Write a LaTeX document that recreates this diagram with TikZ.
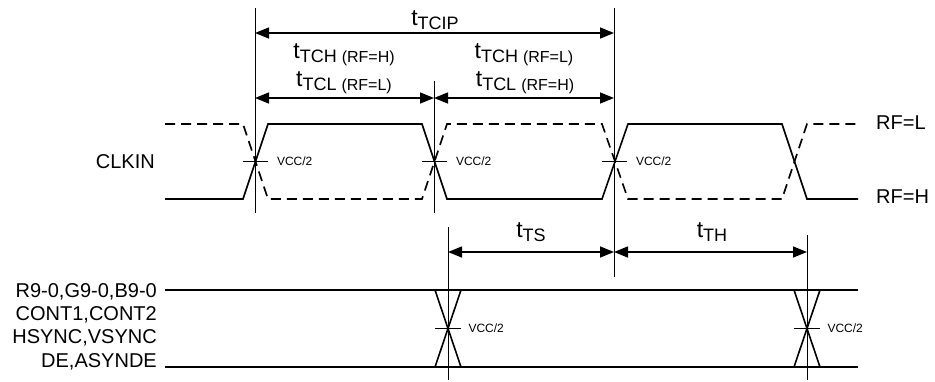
\documentclass[tikz,border=0pt]{standalone}
\usepackage{fontspec}
\setmainfont{Liberation Sans}
\usetikzlibrary{arrows.meta}

% t with subscript, optional (RF=..) part
\newcommand{\tlab}[2][]{{\fontsize{23}{23}\selectfont t}\raisebox{-4pt}{\fontsize{18}{18}\selectfont #2\ifx\relax#1\relax\else\ {\fontsize{16}{16}\selectfont #1}\fi}}

\begin{document}
\begin{tikzpicture}[
        x=1pt, y=-1pt,
        wave/.style={line width=1.6pt},
        wavedash/.style={line width=1.6pt, dash pattern=on 10pt off 6pt},
        guide/.style={line width=0.9pt},
        dimarrow/.style={{Triangle[length=14pt,width=11pt]}-{Triangle[length=14pt,width=11pt]}, line width=1.5pt},
        vtick/.style={line width=1pt},
        sig/.style={font=\fontsize{20}{20}\selectfont, inner sep=0pt},
        vlabel/.style={font=\fontsize{12}{12}\selectfont, inner sep=0pt, anchor=west},
        tlabel/.style={inner sep=0pt, anchor=base}
    ]
        \useasboundingbox (0,0) rectangle (935,381);

        % guide lines
        \coordinate (g1-top) at (255,8);   \coordinate (g1-bot) at (255,213);
        \coordinate (g2-top) at (434,81);  \coordinate (g2-bot) at (434,213);
        \coordinate (g3-top) at (614,8);   \coordinate (g3-bot) at (614,277);
        \coordinate (g4-top) at (448,227); \coordinate (g4-bot) at (448,380);
        \coordinate (g5-top) at (807,235); \coordinate (g5-bot) at (807,380);
        \foreach \g in {g1,g2,g3,g4,g5}
            \draw[guide] (\g-top) -- (\g-bot);

        % timing arrows
        \draw[dimarrow] (g1-top |- 0,33) -- (g3-top |- 0,33);
        \draw[dimarrow] (g1-top |- 0,98) -- (g2-top |- 0,98);
        \draw[dimarrow] (g2-top |- 0,98) -- (g3-top |- 0,98);
        \draw[dimarrow] (g4-top |- 0,252) -- (g3-top |- 0,252);
        \draw[dimarrow] (g3-top |- 0,252) -- (g5-top |- 0,252);

        \node[tlabel] (tcip) at (435,25) {\tlab{TCIP}};
        \node[tlabel] (tchh) at (344,58) {\tlab[(RF=H)]{TCH}};
        \node[tlabel] (tchl) at (524,58) {\tlab[(RF=L)]{TCH}};
        \node[tlabel] (tcll) at (344,86) {\tlab[(RF=L)]{TCL}};
        \node[tlabel] (tclh) at (525,86) {\tlab[(RF=H)]{TCL}};
        \node[tlabel] (tts) at (531,237) {\tlab{TS}};
        \node[tlabel] (tth) at (712,237) {\tlab{TH}};

        % CLKIN
        \draw[wave] (165,199) -- (243,199) -- (268,124) -- (422,124) -- (447,199) -- (602,199)
            -- (628,124) -- (782,124) -- (807,199) -- (858,199);
        \draw[wavedash] (165,124) -- (243,124) -- (268,199) -- (422,199) -- (447,124) -- (602,124)
            -- (628,199) -- (782,199) -- (807,124) -- (858,124);
        \foreach \x/\n in {255/1,434/2,614/3}
            \draw[vtick] (\x-12.5,161) -- (\x+12.5,161) node[vlabel, xshift=9pt] (vcc\n) {VCC/2};

        \node[sig, anchor=east] (clkin) at (155,162) {CLKIN};
        \node[sig, anchor=west] (rfl) at (876,123) {RF=L};
        \node[sig, anchor=west] (rfh) at (876,197) {RF=H};

        % data bus
        \draw[wave] (165,290) -- (858,290);
        \draw[wave] (165,367) -- (858,367);
        \foreach \x/\n in {448/4,807/5} {
            \draw[wave] (\x-13,290) -- (\x+13,367);
            \draw[wave] (\x+13,290) -- (\x-13,367);
            \draw[vtick] (\x-13,328) -- (\x+13,328) node[vlabel, xshift=7pt] (vcc\n) {VCC/2};
        }

        \foreach \txt [count=\i] in {{R9-0,G9-0,B9-0},{CONT1,CONT2},{HSYNC,VSYNC},{DE,ASYNDE}}
            \node[sig, anchor=base east] (bus\i) at (157,297+23.4*\i-23.4) {\txt};
    \end{tikzpicture}
\end{document}
